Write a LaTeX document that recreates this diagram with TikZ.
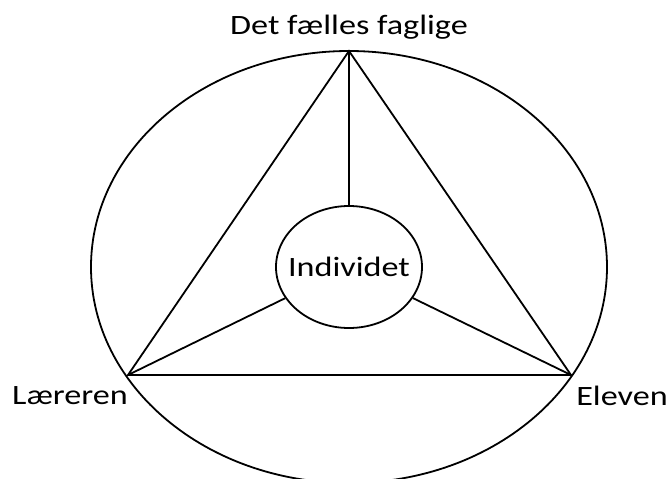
\documentclass[tikz,border=0pt]{standalone}
\usepackage{fontspec}
\setmainfont{Carlito}[FakeStretch=1.22]
\usepackage{tikz}
\usetikzlibrary{shapes.geometric,calc}

\begin{document}
\begin{tikzpicture}[x=1pt,y=1pt]
\tikzset{
 ln/.style={line width=1.8pt},
 lbl/.style={inner sep=0pt,font=\fontsize{28}{32}\selectfont},
 ind/.style={draw,ln,ellipse,minimum width=146pt,minimum height=122pt,inner sep=0pt,font=\fontsize{28}{32}\selectfont}
}
\useasboundingbox (0,0) rectangle (670,-479);
\clip (0,0) rectangle (670,-479);
% hjoerner i trekanten
\coordinate (top) at (349,-51);
\coordinate (lt) at (128,-375);
\coordinate (rt) at (571,-375);
\coordinate (mid) at (349,-267);
\draw[ln] (mid) ellipse [x radius=258pt,y radius=216pt];
\node[ind] (indiv) at (mid) {\makebox[0pt]{Individet}};
\draw[ln] (top)--(lt)--(rt)--cycle;
\draw[ln] (top)--(indiv);
\draw[ln] (lt)--(indiv);
\draw[ln] (rt)--(indiv);
% tekster
\node[lbl] (fag) at (349,-27) {Det fælles faglige};
\node[lbl] (laer) at (70,-396) {Læreren};
\node[lbl] (elev) at (622,-396) {Eleven};
\end{tikzpicture}
\end{document}
